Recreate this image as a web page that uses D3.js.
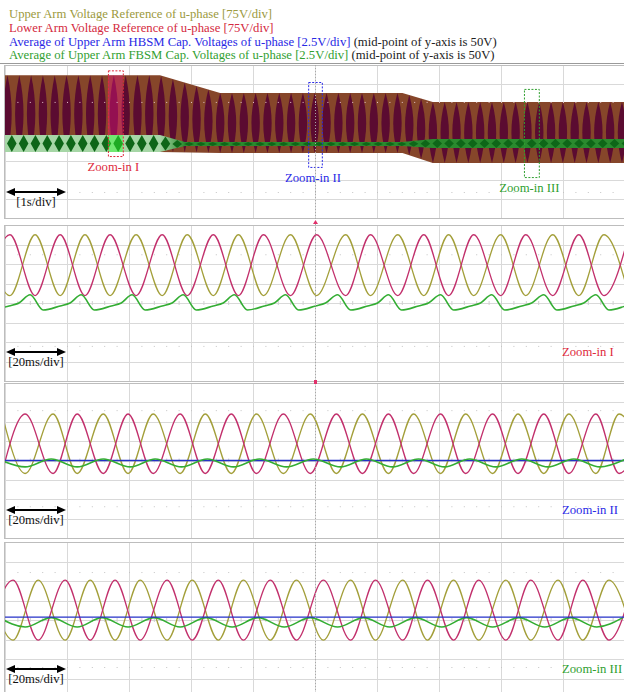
<!DOCTYPE html>
<html>
<head>
<meta charset="utf-8">
<script src="https://cdn.jsdelivr.net/npm/d3@7"></script>
<style>
  body { margin: 0; background: #fff; }
  svg { display: block; }
  text { font-family: "Liberation Serif", "Times New Roman", serif; }
</style>
</head>
<body>
<script>
// ---------------- legend (header) ----------------
const legendText = [
  "Upper Arm Voltage Reference of u-phase [75V/div]",
  "Lower Arm Voltage Reference of u-phase [75V/div]",
  "Average of Upper Arm HBSM Cap. Voltages of u-phase [2.5V/div]",
  "Average of Upper Arm FBSM Cap. Voltages of u-phase [2.5V/div]"
];
const legendNote = ["", "", " (mid-point of y-axis is 50V)", " (mid-point of y-axis is 50V)"];

// ---------------- panel 1 : overview, time in s, values in div ----------------
const p1Time      = [0, 2.50, 3.47, 6.41, 6.90, 10];
const p1Top       = [3.46, 3.46, 2.54, 2.54, 2.07, 2.07];
const p1Bot       = [-0.55, -0.55, -0.60, -0.60, -1.12, -1.12];
const p1GreenTime = [0, 2.50, 2.90, 6.41, 6.90, 10];
const p1GreenTop  = [0.34, 0.34, -0.03, -0.03, 0.13, 0.13];
const p1GreenBot  = [-0.55, -0.55, -0.24, -0.24, -0.34, -0.34];
const p1Beat = 0.1906;   // s, spacing of the aliased arm-voltage pattern

const zoomNames = ["Zoom-in I", "Zoom-in II", "Zoom-in III"];
const zoomStart = [1.66, 4.89, 8.37];
const zoomEnd   = [1.90, 5.11, 8.61];
const zoomHigh  = [3.72, 3.11, 2.75];
const zoomLow   = [-0.76, -1.33, -1.86];

// ---------------- panel 2 : Zoom-in I, time in ms ----------------
const p2Time  = [-6.5, 1.6, 9.7, 17.8, 25.8, 33.9, 42.3, 50.7, 58.8, 67.2, 75.3, 83.4, 92.1,
                 100.5, 109.9, 117.9, 126.7, 135.1, 143.1, 151.2, 159.9, 168.0, 176.7, 185.1, 193.2, 201.3];
const p2Lower = [0.38, 3.5, 0.38, 3.5, 0.38, 3.5, 0.38, 3.5, 0.38, 3.5, 0.38, 3.5, 0.38,
                 3.5, 0.38, 3.5, 0.38, 3.5, 0.38, 3.5, 0.38, 3.5, 0.38, 3.5, 0.38, 3.5];
const p2Upper = [3.5, 0.38, 3.5, 0.38, 3.5, 0.38, 3.5, 0.38, 3.5, 0.38, 3.5, 0.38, 3.5,
                 0.38, 3.5, 0.38, 3.5, 0.38, 3.5, 0.38, 3.5, 0.38, 3.5, 0.38, 3.5, 0.38];
const p2GreenTime = [-4.2, 1.3, 4.5,
  8.1, 12.3, 17.8, 21.0,  24.6, 28.8, 34.3, 37.5,  41.0, 45.2, 50.7, 53.9,
  57.5, 61.7, 67.2, 70.4,  74.0, 78.2, 83.7, 86.9,  90.5, 94.7, 100.2, 103.4,
  107.3, 111.5, 117.0, 120.2,  123.7, 127.9, 133.4, 136.6,  140.5, 144.7, 150.2, 153.4,
  157.0, 161.2, 166.7, 169.9,  173.8, 178.0, 183.5, 186.7,  190.6, 194.8, 200.3, 203.5];
const p2Green = [-0.36, -0.15, 0.0,
  0.42, -0.36, -0.15, 0.0,  0.42, -0.36, -0.15, 0.0,  0.42, -0.36, -0.15, 0.0,
  0.42, -0.36, -0.15, 0.0,  0.42, -0.36, -0.15, 0.0,  0.42, -0.36, -0.15, 0.0,
  0.42, -0.36, -0.15, 0.0,  0.42, -0.36, -0.15, 0.0,  0.42, -0.36, -0.15, 0.0,
  0.42, -0.36, -0.15, 0.0,  0.42, -0.36, -0.15, 0.0,  0.42, -0.36, -0.15, 0.0];

// ---------------- panel 3 : Zoom-in II ----------------
const p3Time  = [-1.0, 6.5, 15.5, 23.3, 31.7, 39.7, 47.8, 56.5, 64.6, 73.0, 81.1, 89.8, 98.5,
                 106.9, 115.3, 123.7, 131.8, 140.5, 148.6, 157.3, 165.5, 173.8, 181.9, 190.6, 198.1, 207.1];
const p3Lower = [-0.67, 2.4, -0.67, 2.4, -0.67, 2.4, -0.67, 2.4, -0.67, 2.4, -0.67, 2.4, -0.67,
                 2.4, -0.67, 2.4, -0.67, 2.4, -0.67, 2.4, -0.67, 2.4, -0.67, 2.4, -0.67, 2.4];
const p3Upper = [2.4, -0.67, 2.4, -0.67, 2.4, -0.67, 2.4, -0.67, 2.4, -0.67, 2.4, -0.67, 2.4,
                 -0.67, 2.4, -0.67, 2.4, -0.67, 2.4, -0.67, 2.4, -0.67, 2.4, -0.67, 2.4, -0.67];
const p3GreenTime = [-2.3, 6.5, 14.9, 23.3, 31.7, 40.4, 48.5, 56.9, 65.3, 73.7, 82.1, 90.8, 99.5,
                     108.2, 116.6, 125.0, 133.4, 141.8, 149.9, 158.3, 166.7, 175.1, 183.5, 191.9, 200.3];
const p3Green = [0.08, -0.33, 0.08, -0.33, 0.08, -0.33, 0.08, -0.33, 0.08, -0.33, 0.08, -0.33, 0.08,
                 -0.33, 0.08, -0.33, 0.08, -0.33, 0.08, -0.33, 0.08, -0.33, 0.08, -0.33, 0.08];
const p3BlueTime = [0, 200];
const p3Blue = [0.0, 0.0];

// ---------------- panel 4 : Zoom-in III ----------------
const p4Time  = [-5.8, 2.6, 10.7, 19.4, 27.5, 35.5, 43.6, 52.3, 60.4, 68.8, 76.9, 85.6, 94.0,
                 102.7, 111.5, 119.5, 128.3, 136.3, 144.7, 152.8, 161.6, 169.6, 178.4, 186.4, 194.8, 202.9];
const p4Lower = [-1.03, 2.05, -1.03, 2.05, -1.03, 2.05, -1.03, 2.05, -1.03, 2.05, -1.03, 2.05, -1.03,
                 2.05, -1.03, 2.05, -1.03, 2.05, -1.03, 2.05, -1.03, 2.05, -1.03, 2.05, -1.03, 2.05];
const p4Upper = [2.05, -1.03, 2.05, -1.03, 2.05, -1.03, 2.05, -1.03, 2.05, -1.03, 2.05, -1.03, 2.05,
                 -1.03, 2.05, -1.03, 2.05, -1.03, 2.05, -1.03, 2.05, -1.03, 2.05, -1.03, 2.05, -1.03];
const p4GreenTime = [-1.9, 6.5, 14.9, 23.3, 31.3, 39.7, 48.1, 56.5, 64.9, 73.3, 81.7, 90.1, 98.5,
                     107.3, 115.7, 124.1, 132.5, 140.9, 148.9, 157.3, 165.8, 174.1, 182.5, 190.9, 199.3];
const p4Green = [0.12, -0.36, 0.12, -0.36, 0.12, -0.36, 0.12, -0.36, 0.12, -0.36, 0.12, -0.36, 0.12,
                 -0.36, 0.12, -0.36, 0.12, -0.36, 0.12, -0.36, 0.12, -0.36, 0.12, -0.36, 0.12];
const p4BlueTime = [0, 200];
const p4Blue = [0.15, 0.15];

// ---------------- layout / colours ----------------
const WIDTH = 624, HEIGHT = 692;
const LEFT = 5, RIGHT = 625;
const FONT = 12.7;
const panelTop    = [65, 225, 383, 542];
const panelBottom = [218, 381, 538, 698];
const dotRows = [[2.07, -2.64], [2.5, -2.2], [2.6, -2.36], [2.46, -2.41]];
const C = {
  olive: "#a39f3a", magenta: "#c2306c", green: "#33ad33", blue: "#2430c8",
  legend: ["#9c9a40", "#d42a40", "#2828e4", "#31a031"],
  zoom: ["#de2a3c", "#2a2ae6", "#2f9f2f"],
  grid: "#d9d9d9", border: "#bdbdbd"
};

const svg = d3.select("body").append("svg")
    .attr("width", WIDTH)
    .attr("height", HEIGHT);
const defs = svg.append("defs");

// header lines
legendText.forEach((t, i) => {
  const txt = svg.append("text")
      .attr("x", 9)
      .attr("y", 18 + i * 13.8)
      .attr("font-size", FONT);
  txt.append("tspan").attr("fill", C.legend[i]).text(t);
  if (legendNote[i]) txt.append("tspan").attr("fill", "#222").text(legendNote[i]);
});
svg.append("line")
    .attr("x1", 0).attr("x2", WIDTH)
    .attr("y1", 63.5).attr("y2", 63.5)
    .attr("stroke", "#9a9a9a");

// a scope panel: grid, border and a clipped group for the traces
function makePanel(i, xDomain) {
  const top = panelTop[i], bottom = panelBottom[i];
  const x = d3.scaleLinear().domain(xDomain).range([LEFT, RIGHT]);
  const y = d3.scaleLinear().domain([-4, 4]).range([bottom, top]);
  const xDiv = d3.scaleLinear().domain([0, 10]).range([LEFT, RIGHT]);
  const g = svg.append("g");

  defs.append("clipPath").attr("id", "clip" + i)
    .append("rect")
      .attr("x", LEFT).attr("y", top)
      .attr("width", RIGHT - LEFT).attr("height", bottom - top);

  g.selectAll(".vg").data(x.ticks(10)).join("line")
      .attr("x1", d => x(d) + 0.5).attr("x2", d => x(d) + 0.5)
      .attr("y1", top).attr("y2", bottom)
      .attr("stroke", C.grid);
  g.selectAll(".hg").data(y.ticks(8)).join("line")
      .attr("x1", LEFT).attr("x2", RIGHT)
      .attr("y1", d => Math.round(y(d)) + 0.5).attr("y2", d => Math.round(y(d)) + 0.5)
      .attr("stroke", C.grid);

  // dotted minor rows and centre-line ticks
  const minor = d3.range(0.2, 10, 0.2);
  dotRows[i].forEach(r => {
    g.selectAll(null).data(minor).join("rect")
        .attr("x", d => xDiv(d)).attr("y", y(r))
        .attr("width", 1).attr("height", 1)
        .attr("fill", "#c4c4c4");
  });
  g.selectAll(".ct").data(minor).join("line")
      .attr("x1", d => xDiv(d) + 0.5).attr("x2", d => xDiv(d) + 0.5)
      .attr("y1", y(0) - 2).attr("y2", y(0) + 2)
      .attr("stroke", "#cfcfcf");

  g.append("rect")
      .attr("x", LEFT - 0.5).attr("y", top + 0.5)
      .attr("width", RIGHT - LEFT + 1).attr("height", bottom - top)
      .attr("fill", "none")
      .attr("stroke", C.border);

  const plot = svg.append("g").attr("clip-path", `url(#clip${i})`);
  return { g, plot, x, y, xDiv, top, bottom };
}

function trace(p, t, v, color, w) {
  const line = d3.line()
      .x(d => p.x(d[0]))
      .y(d => p.y(d[1]))
      .curve(d3.curveMonotoneX);
  p.plot.append("path")
      .datum(d3.zip(t, v))
      .attr("d", line)
      .attr("fill", "none")
      .attr("stroke", color)
      .attr("stroke-width", w);
}

// one-division time arrow with its label
function timeArrow(p, label) {
  const ticks = p.x.ticks(10);
  const a = p.x(ticks[0]) + 1, b = p.x(ticks[1]) - 1;
  const yA = p.top + 127;
  svg.append("line")
      .attr("x1", a + 6).attr("x2", b - 6)
      .attr("y1", yA).attr("y2", yA)
      .attr("stroke", "#000").attr("stroke-width", 2);
  svg.append("path")
      .attr("d", `M${a},${yA}L${a + 9},${yA - 4}L${a + 9},${yA + 4}Z M${b},${yA}L${b - 9},${yA - 4}L${b - 9},${yA + 4}Z`)
      .attr("fill", "#000");
  svg.append("text")
      .attr("x", (a + b) / 2).attr("y", p.top + 141)
      .attr("text-anchor", "middle")
      .attr("font-size", FONT)
      .attr("fill", "#111")
      .text(label);
}

function lensPath(xc, yt, yb, hw) {
  const ym = (yt + yb) / 2;
  return `M${xc},${yt}Q${xc + 2 * hw},${ym} ${xc},${yb}Q${xc - 2 * hw},${ym} ${xc},${yt}Z`;
}

// ================= panel 1 =================
const p1 = makePanel(0, [0, 10]);
const band = d3.area()
    .x(d => p1.x(d[0]))
    .y0(d => p1.y(d[2]))
    .y1(d => p1.y(d[1]));
const bandPath = band(d3.zip(p1Time, p1Top, p1Bot));
const greenPath = band(d3.zip(p1GreenTime, p1GreenTop, p1GreenBot));
defs.append("clipPath").attr("id", "bandClip").append("path").attr("d", bandPath);
defs.append("clipPath").attr("id", "greenClip").append("path").attr("d", greenPath);

p1.plot.append("path").attr("d", bandPath).attr("fill", "#86462a");

const topAt = d3.scaleLinear().domain(p1Time).range(p1Top);
const botAt = d3.scaleLinear().domain(p1Time).range(p1Bot);
p1.plot.append("g").attr("clip-path", "url(#bandClip)")
  .selectAll("path")
  .data(d3.range(0.04, 10.2, p1Beat))
  .join("path")
    .attr("d", t => lensPath(p1.x(t), p1.y(topAt(t)), p1.y(botAt(t)), 4.2))
    .attr("fill", "#5b0b31");

// zoom-in I highlight on the band
p1.plot.append("rect")
    .attr("clip-path", "url(#bandClip)")
    .attr("x", p1.x(zoomStart[0])).attr("width", p1.x(zoomEnd[0]) - p1.x(zoomStart[0]))
    .attr("y", p1.top).attr("height", p1.bottom - p1.top)
    .attr("fill", "#ff1a90").attr("opacity", 0.35);

// FBSM capacitor average band (green)
const grad = defs.append("linearGradient").attr("id", "gGrad")
    .attr("gradientUnits", "userSpaceOnUse")
    .attr("x1", p1.x(2.5)).attr("x2", p1.x(2.9))
    .attr("y1", 0).attr("y2", 0);
grad.append("stop").attr("offset", 0).attr("stop-color", "#a6d6a6");
grad.append("stop").attr("offset", 1).attr("stop-color", "#2a8a2e");
p1.plot.append("path").attr("d", greenPath).attr("fill", "url(#gGrad)");

const gTopAt = d3.scaleLinear().domain(p1GreenTime).range(p1GreenTop);
const gBotAt = d3.scaleLinear().domain(p1GreenTime).range(p1GreenBot);
p1.plot.append("g").attr("clip-path", "url(#greenClip)")
  .selectAll("path")
  .data(d3.range(0.11, 10.2, p1Beat))
  .join("path")
    .attr("d", t => {
      const xc = p1.x(t), yt = p1.y(gTopAt(t)), yb = p1.y(gBotAt(t)), ym = (yt + yb) / 2;
      return `M${xc},${yt}L${xc + 4.8},${ym}L${xc},${yb}L${xc - 4.8},${ym}Z`;
    })
    .attr("fill", "#0e6618");
p1.plot.append("rect")
    .attr("clip-path", "url(#greenClip)")
    .attr("x", p1.x(zoomStart[0])).attr("width", p1.x(zoomEnd[0]) - p1.x(zoomStart[0]))
    .attr("y", p1.top).attr("height", p1.bottom - p1.top)
    .attr("fill", "#30ff30").attr("opacity", 0.45);

// grid dots showing through the band
p1.plot.append("g").attr("clip-path", "url(#bandClip)")
  .selectAll("rect")
  .data(d3.range(0.2, 10, 0.2))
  .join("rect")
    .attr("x", d => p1.xDiv(d)).attr("y", p1.y(dotRows[0][0]))
    .attr("width", 1).attr("height", 1)
    .attr("fill", "#e8c8d0");

// zoom-in windows
zoomNames.forEach((name, i) => {
  svg.append("rect")
      .attr("x", p1.x(zoomStart[i]) + 0.5).attr("y", p1.y(zoomHigh[i]) + 0.5)
      .attr("width", p1.x(zoomEnd[i]) - p1.x(zoomStart[i]))
      .attr("height", p1.y(zoomLow[i]) - p1.y(zoomHigh[i]))
      .attr("fill", "none")
      .attr("stroke", C.zoom[i])
      .attr("stroke-dasharray", "2,1.5");
  svg.append("text")
      .attr("x", (p1.x(zoomStart[i]) + p1.x(zoomEnd[i])) / 2 - 2)
      .attr("y", p1.y(zoomLow[i]) + 15)
      .attr("text-anchor", "middle")
      .attr("font-size", FONT)
      .attr("fill", C.zoom[i])
      .text(name);
});
timeArrow(p1, "[1s/div]");

// ================= panels 2-4 =================
const p2 = makePanel(1, [0, 200]);
trace(p2, p2Time, p2Upper, C.olive, 1.3);
trace(p2, p2Time, p2Lower, C.magenta, 1.3);
trace(p2, p2GreenTime, p2Green, C.green, 1.6);

const p3 = makePanel(2, [0, 200]);
trace(p3, p3Time, p3Upper, C.olive, 1.3);
trace(p3, p3Time, p3Lower, C.magenta, 1.3);
trace(p3, p3BlueTime, p3Blue, C.blue, 1.4);
trace(p3, p3GreenTime, p3Green, C.green, 1.6);

const p4 = makePanel(3, [0, 200]);
trace(p4, p4Time, p4Upper, C.olive, 1.3);
trace(p4, p4Time, p4Lower, C.magenta, 1.3);
trace(p4, p4GreenTime, p4Green, C.green, 1.6);
trace(p4, p4BlueTime, p4Blue, C.blue, 1.4);

[p2, p3, p4].forEach((p, i) => {
  timeArrow(p, "[20ms/div]");
  svg.append("text")
      .attr("x", 562).attr("y", p.top + 131)
      .attr("font-size", FONT)
      .attr("fill", C.zoom[i])
      .text(zoomNames[i]);
});

// trigger position: dotted centre line and red markers
const xMid = p1.xDiv(5);
svg.append("line")
    .attr("x1", xMid + 0.5).attr("x2", xMid + 0.5)
    .attr("y1", panelTop[0]).attr("y2", HEIGHT)
    .attr("stroke", "#a8a8a8")
    .attr("stroke-dasharray", "1,2");
svg.append("path")
    .attr("d", `M${xMid + 0.5},${panelTop[1] - 5}l-2.5,4h5z`)
    .attr("fill", "#e0306a");
[panelBottom[1], panelTop[2]].forEach(yy => {
  svg.append("rect")
      .attr("x", xMid - 1).attr("y", yy - 1)
      .attr("width", 3).attr("height", 2)
      .attr("fill", "#e0306a");
});
</script>
</body>
</html>
